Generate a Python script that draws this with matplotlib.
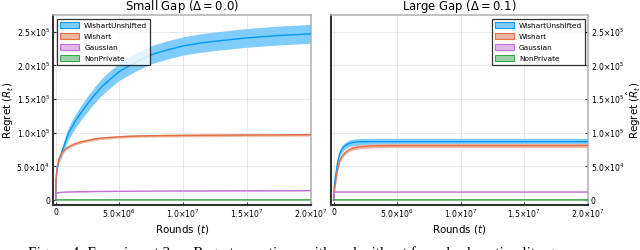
import matplotlib
matplotlib.use("Agg")
import matplotlib.pyplot as plt
from matplotlib.patches import Patch
import numpy as np

# ---- data (t in units of 1e6 rounds, regret in units of 1e5) ----
t_left = [0, 0.03, 0.1, 0.25, 0.5, 0.75, 1.0, 1.5, 2.0, 2.5, 3.0, 3.6, 4.3, 5.0, 6.2, 7.5, 8.75, 10, 11.25, 12.5, 15, 17.5, 20]
wu_left = [0, 0.30, 0.45, 0.60, 0.72, 0.86, 0.99, 1.16, 1.30, 1.43, 1.55, 1.68, 1.80, 1.91, 2.04, 2.16, 2.23, 2.29, 2.33, 2.36, 2.41, 2.445, 2.47]
wu_left_err = [0, 0.02, 0.03, 0.05, 0.07, 0.08, 0.09, 0.10, 0.108, 0.114, 0.12, 0.125, 0.128, 0.13, 0.132, 0.134, 0.135, 0.136, 0.137, 0.138, 0.139, 0.14, 0.14]
w_left = [0, 0.30, 0.45, 0.60, 0.70, 0.755, 0.79, 0.835, 0.865, 0.885, 0.905, 0.92, 0.93, 0.94, 0.95, 0.955, 0.958, 0.96, 0.962, 0.963, 0.966, 0.968, 0.97]
w_left_err = [0, 0.01, 0.015, 0.02, 0.02, 0.02, 0.02, 0.02, 0.02, 0.02, 0.02, 0.02, 0.02, 0.02, 0.02, 0.02, 0.02, 0.02, 0.02, 0.02, 0.02, 0.02, 0.02]
g_left = [0, 0.09, 0.105, 0.11, 0.115, 0.118, 0.12, 0.122, 0.124, 0.125, 0.127, 0.128, 0.129, 0.13, 0.131, 0.132, 0.134, 0.135, 0.135, 0.136, 0.137, 0.138, 0.14]
np_left = [0, 0.003, 0.003, 0.003, 0.003, 0.003, 0.003, 0.003, 0.003, 0.003, 0.003, 0.003, 0.003, 0.003, 0.003, 0.003, 0.003, 0.003, 0.003, 0.003, 0.003, 0.003, 0.003]

t_right = [0, 0.05, 0.1, 0.2, 0.3, 0.47, 0.6, 0.7, 0.85, 1.0, 1.25, 1.5, 2.0, 3.0, 5, 10, 15, 20]
wu_right = [0, 0.20, 0.30, 0.42, 0.55, 0.69, 0.74, 0.77, 0.80, 0.82, 0.843, 0.855, 0.865, 0.868, 0.868, 0.868, 0.868, 0.868]
wu_right_err = [0, 0.02, 0.03, 0.04, 0.045, 0.05, 0.05, 0.05, 0.05, 0.05, 0.05, 0.05, 0.05, 0.05, 0.05, 0.05, 0.05, 0.05]
w_right = [0, 0.10, 0.20, 0.33, 0.45, 0.58, 0.63, 0.66, 0.695, 0.72, 0.75, 0.77, 0.79, 0.805, 0.81, 0.81, 0.81, 0.81]
w_right_err = [0, 0.01, 0.02, 0.025, 0.03, 0.03, 0.03, 0.03, 0.03, 0.03, 0.03, 0.03, 0.03, 0.03, 0.03, 0.03, 0.03, 0.03]
g_right = [0, 0.119, 0.119, 0.119, 0.119, 0.119, 0.119, 0.119, 0.119, 0.119, 0.119, 0.119, 0.119, 0.119, 0.119, 0.119, 0.119, 0.119]
np_right = [0, 0.003, 0.003, 0.003, 0.003, 0.003, 0.003, 0.003, 0.003, 0.003, 0.003, 0.003, 0.003, 0.003, 0.003, 0.003, 0.003, 0.003]

series_names = ["WishartUnshifted", "Wishart", "Gaussian", "NonPrivate"]
titles = [r"Small Gap $(\Delta = 0.0)$", r"Large Gap $(\Delta = 0.1)$"]
xtick_vals = [0, 5e6, 1e7, 1.5e7, 2e7]
xtick_labels = ["0", r"$5.0{\times}10^{6}$", r"$1.0{\times}10^{7}$", r"$1.5{\times}10^{7}$", r"$2.0{\times}10^{7}$"]
ytick_vals = [0, 5e4, 1e5, 1.5e5, 2e5, 2.5e5]
ytick_labels = ["0", r"$5.0{\times}10^{4}$", r"$1.0{\times}10^{5}$", r"$1.5{\times}10^{5}$", r"$2.0{\times}10^{5}$", r"$2.5{\times}10^{5}$"]
caption = "Figure 4: Experiment 2 \u2014 Regret over time, with and without forced sub-optimality gaps."

line_colors = ["#009AFA", "#E26F46", "#C371D2", "#3DA44E"]
band_colors = ["#80CCFC", "#F0B7A2", "#E1B8E8", "#9ED1A6"]

plt.rcParams["mathtext.fontset"] = "dejavusans"
plt.rcParams["font.family"] = ["DejaVu Sans"]

fig = plt.figure(figsize=(6.4, 2.5), dpi=100)
ax1 = fig.add_axes([53/640, 45/250, 258/640, 190/250])
ax2 = fig.add_axes([331/640, 45/250, 257/640, 190/250])

panels = [
    (ax1, t_left, [(wu_left, wu_left_err), (w_left, w_left_err), (g_left, None), (np_left, None)]),
    (ax2, t_right, [(wu_right, wu_right_err), (w_right, w_right_err), (g_right, None), (np_right, None)]),
]

for i, (ax, t, ser) in enumerate(panels):
    tt = np.array(t) * 1e6
    for k, (m, e) in enumerate(ser):
        mm = np.array(m) * 1e5
        if e is not None:
            ee = np.array(e) * 1e5
            ax.fill_between(tt, mm - ee, mm + ee, color=band_colors[k], lw=0, zorder=2)
        else:
            ax.fill_between(tt, mm - 400, mm + 400, color=band_colors[k], lw=0, zorder=2)
        ax.plot(tt, mm, color=line_colors[k], lw=1.0, zorder=3)

    ax.set_xlim(-2.1e5, 2.003e7)
    ax.set_ylim(-7.4e3, 2.75e5)
    ax.set_xticks(xtick_vals)
    ax.set_xticklabels(xtick_labels)
    ax.set_yticks(ytick_vals)
    ax.set_yticklabels(ytick_labels)
    ax.grid(True, color="#e5e5e5", lw=0.6, zorder=0)
    ax.set_axisbelow(True)
    ax.tick_params(direction="in", length=2.5, width=0.8, labelsize=5.6, pad=2, color="#333333")
    for s in ["left", "bottom"]:
        ax.spines[s].set_color("#333333")
        ax.spines[s].set_linewidth(1.5)
    for s in ["top", "right"]:
        ax.spines[s].set_color("#b5b5b5")
        ax.spines[s].set_linewidth(1.2)
    ax.set_title(titles[i], fontsize=8.4, pad=2)
    ax.set_xlabel(r"Rounds $(t)$", fontsize=7.4, labelpad=2)
    ax.set_ylabel(r"Regret $(\hat{R}_t)$", fontsize=7.4, labelpad=0)

    handles = [Patch(facecolor=band_colors[k], edgecolor=line_colors[k], lw=0.8) for k in range(4)]
    if i == 0:
        leg = ax.legend(handles, series_names, loc="upper left", bbox_to_anchor=(4/258, 1 - 4/190),
                        borderaxespad=0, fontsize=5.3, frameon=True, fancybox=False,
                        handlelength=2.6, handleheight=0.9, handletextpad=0.7, labelspacing=0.6,
                        borderpad=0.4)
    else:
        leg = ax.legend(handles, series_names, loc="upper right", bbox_to_anchor=(1 - 3/257, 1 - 4/190),
                        borderaxespad=0, fontsize=5.3, frameon=True, fancybox=False,
                        handlelength=2.6, handleheight=0.9, handletextpad=0.7, labelspacing=0.6,
                        borderpad=0.4)
    leg.get_frame().set_edgecolor("black")
    leg.get_frame().set_linewidth(0.9)
    leg.set_zorder(5)

ax2.yaxis.tick_right()
ax2.yaxis.set_label_position("right")
ax2.tick_params(axis="y", which="both", left=False, right=True)

fig.text(28/640, -7/250, caption, fontsize=11, family=["Liberation Serif", "DejaVu Serif"], va="baseline", ha="left")

fig.savefig("out.png", dpi=100)
